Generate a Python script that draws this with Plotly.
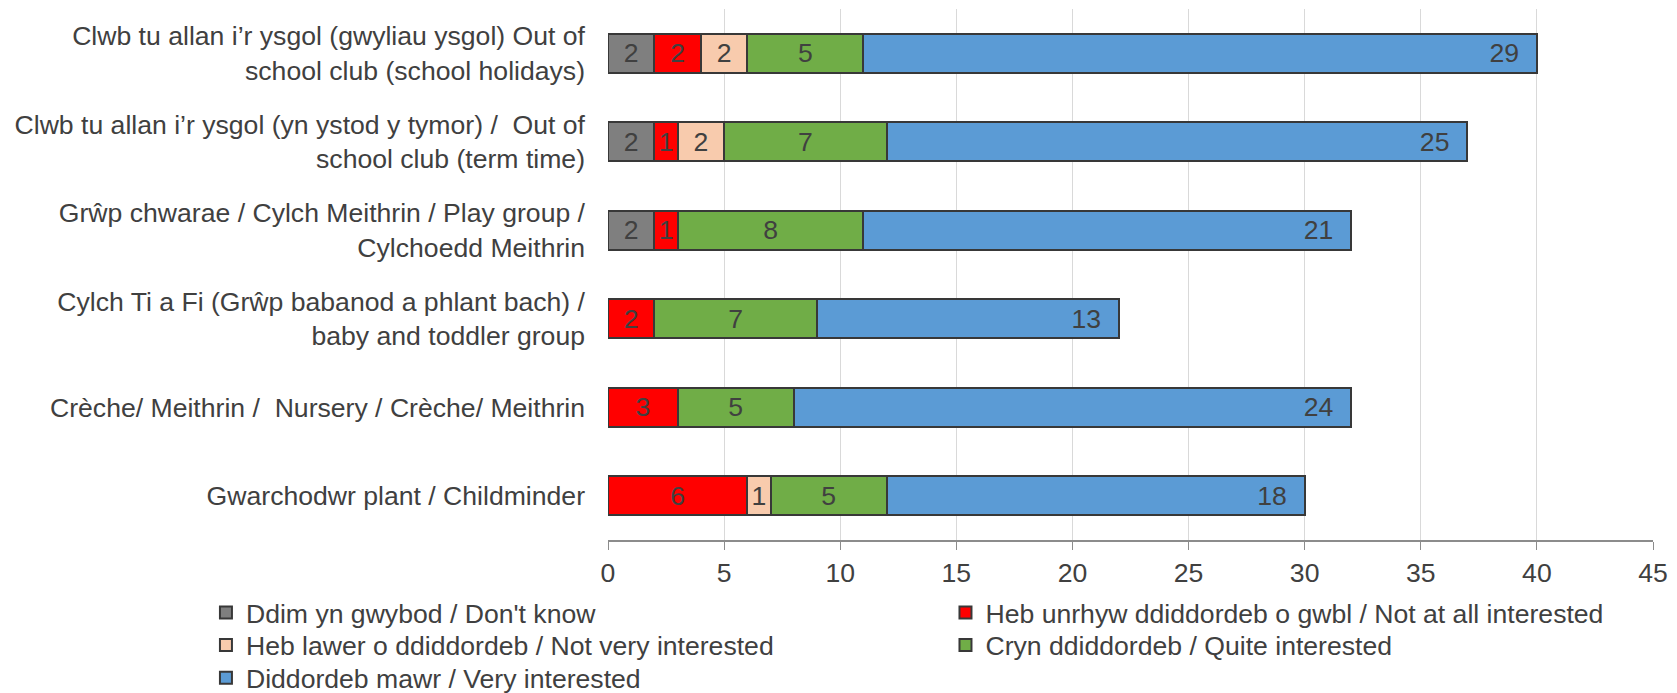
import plotly.graph_objects as go

FONT = "Liberation Sans, Arial, sans-serif"
TEXT = "#404040"
SIZE = 26.6

categories = [
    "Clwb tu allan i\u2019r ysgol (gwyliau ysgol) Out of<br>school club (school holidays)",
    "Clwb tu allan i\u2019r ysgol (yn ystod y tymor) /  Out of<br>school club (term time)",
    "Gr\u0175p chwarae / Cylch Meithrin / Play group /<br>Cylchoedd Meithrin",
    "Cylch Ti a Fi (Gr\u0175p babanod a phlant bach) /<br>baby and toddler group",
    "Cr\u00e8che/ Meithrin /  Nursery / Cr\u00e8che/ Meithrin",
    "Gwarchodwr plant / Childminder",
]

dont_know = [2, 2, 2, None, None, None]
not_at_all = [2, 1, 1, 2, 3, 6]
not_very = [2, 2, None, None, None, 1]
quite = [5, 7, 8, 7, 5, 5]
very = [29, 25, 21, 13, 24, 18]

# name, values, colour, label anchor, legend slot
series = [
    ("Ddim yn gwybod / Don't know", dont_know, "#7f7f7f", "middle", "legend"),
    ("Heb unrhyw ddiddordeb o gwbl / Not at all interested", not_at_all, "#ff0000", "middle", "legend2"),
    ("Heb lawer o ddiddordeb / Not very interested", not_very, "#f8cbad", "middle", "legend3"),
    ("Cryn ddiddordeb / Quite interested", quite, "#70ad47", "middle", "legend4"),
    ("Diddordeb mawr / Very interested", very, "#5b9bd5", "end", "legend5"),
]

fig = go.Figure()
for name, vals, color, anchor, leg in series:
    pad = "\u00a0\u00a0" if anchor == "end" else ""
    fig.add_bar(
        y=categories,
        x=vals,
        name=name,
        orientation="h",
        legend=leg,
        marker={"color": color, "line": {"color": "#383838", "width": 2}},
        text=["" if v is None else f"{v}{pad}" for v in vals],
        textposition="inside",
        insidetextanchor=anchor,
        textangle=0,
        textfont={"color": TEXT, "size": SIZE, "family": FONT},
        constraintext="none",
    )

legend_style = {
    "orientation": "v",
    "xref": "container",
    "yref": "container",
    "xanchor": "left",
    "yanchor": "top",
    "bgcolor": "rgba(0,0,0,0)",
    "font": {"size": SIZE, "color": TEXT, "family": FONT},
}
col1, col2 = 0.1186, 0.5617
row1, row2, row3 = 0.1524, 0.1047, 0.0571

fig.update_layout(
    barmode="stack",
    bargap=0.56,
    width=1669,
    height=685,
    margin={"l": 600, "r": 24, "t": 1, "b": 153, "autoexpand": False},
    paper_bgcolor="white",
    plot_bgcolor="white",
    font={"family": FONT, "size": SIZE, "color": TEXT},
    showlegend=True,
    legend={**legend_style, "x": col1, "y": row1},
    legend2={**legend_style, "x": col2, "y": row1},
    legend3={**legend_style, "x": col1, "y": row2},
    legend4={**legend_style, "x": col2, "y": row2},
    legend5={**legend_style, "x": col1, "y": row3},
)
fig.update_xaxes(
    range=[0, 45],
    dtick=5,
    showgrid=True,
    gridcolor="#d9d9d9",
    gridwidth=1,
    zeroline=False,
    showline=True,
    linecolor="#8c8c8c",
    linewidth=1.5,
    ticks="outside",
    ticklen=8,
    tickcolor="#8c8c8c",
    tickfont={"size": SIZE, "color": TEXT},
)
fig.update_yaxes(
    autorange="reversed",
    showgrid=False,
    showline=False,
    ticks="",
    ticklabelstandoff=22,
    tickfont={"size": SIZE, "color": TEXT},
)

fig.write_html("out.html")
